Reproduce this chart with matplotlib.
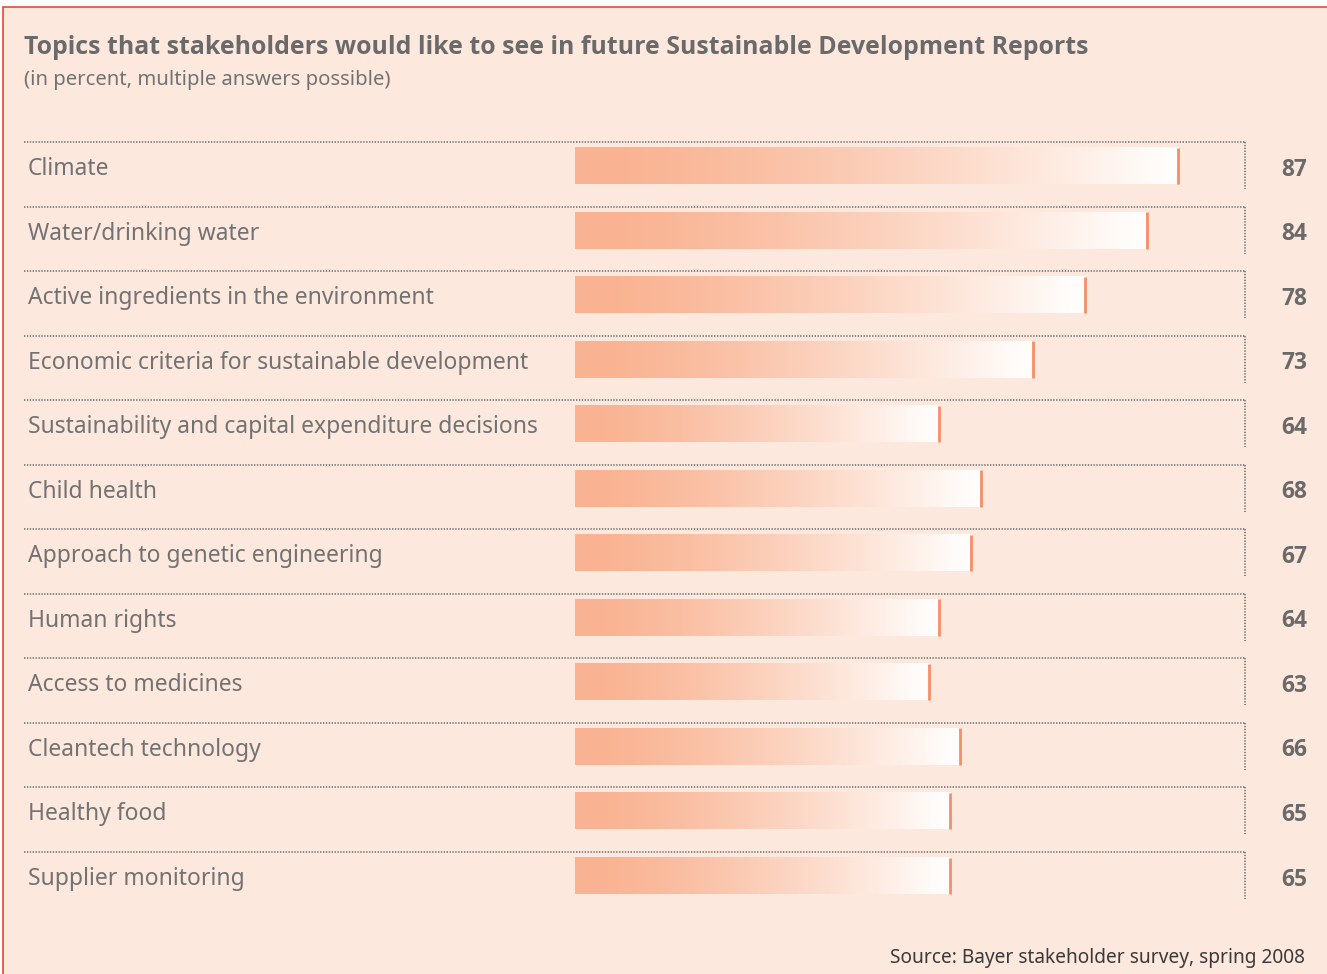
import numpy as np
import matplotlib
matplotlib.use("Agg")
import matplotlib.pyplot as plt
from matplotlib.patches import Rectangle
from matplotlib.colors import to_rgb
import matplotlib.transforms as mtransforms

# ---------------- data ----------------
topics = ["Climate", "Water/drinking water", "Active ingredients in the environment",
          "Economic criteria for sustainable development",
          "Sustainability and capital expenditure decisions", "Child health",
          "Approach to genetic engineering", "Human rights", "Access to medicines",
          "Cleantech technology", "Healthy food", "Supplier monitoring"]
percent = [87, 84, 78, 73, 64, 68, 67, 64, 63, 66, 65, 65]

title = "Topics that stakeholders would like to see in future Sustainable Development Reports"
subtitle = "(in percent, multiple answers possible)"
source = "Source: Bayer stakeholder survey, spring 2008"

# ---------------- style ----------------
W, H = 1327, 974
BG = '#fde8de'
FRAME = '#e64a34'
BAR = '#f9b392'
END = '#f58e67'
TXT = '#727272'
DOT = '#6e6e6e'
FONT = 'Noto Sans'
BOLDFONT = 'Open Sans'
XMIN, XMAX = 28.9, 93.4
ROW = 64.55  # px per row

fig = plt.figure(figsize=(W / 100, H / 100), dpi=100, facecolor='white')
fig.patches.append(Rectangle((3 / W, -0.02), 1.1, (H - 7) / H + 0.02, transform=fig.transFigure,
                             facecolor=BG, edgecolor=FRAME, lw=1.2, zorder=-5))

n = len(topics)
top_px = 142
ax = fig.add_axes([574.5 / W, 1 - (top_px + n * ROW) / H, (1245 - 574.5) / W, n * ROW / H])
ax.set_facecolor('none')
ax.axis('off')
ax.set_zorder(2)

# gradient: salmon -> white
t = np.linspace(0, 1, 400)
f = np.clip((t - 0.05) / 0.92, 0, 1) ** 1.35
c0 = np.array(to_rgb(BAR))
c1 = np.array(to_rgb('#fffdfb'))
grad = (c0[None, :] * (1 - f[:, None]) + c1[None, :] * f[:, None])[None, :, :]

btop, bbot = 5.5 / ROW, 42.0 / ROW
blend = mtransforms.blended_transform_factory(fig.transFigure, ax.transData)
DOTSTYLE = dict(color=DOT, lw=1.15, linestyle=(0, (0.85, 0.95)), clip_on=False, zorder=1)
labels, nums = [], []
for i, (name, v) in enumerate(zip(topics, percent)):
    ax.imshow(grad, extent=(XMIN, v, i + bbot, i + btop), aspect='auto',
              interpolation='bilinear', zorder=2)
    ax.plot([v, v], [i + btop, i + bbot], color=END, lw=2.0, solid_capstyle='butt', zorder=3)
    # dotted separators
    ax.plot([24 / W, 1245 / W], [i, i], transform=blend, **DOTSTYLE)
    ax.plot([XMAX, XMAX], [i, i + 47 / ROW], **DOTSTYLE)
    labels.append(ax.text(28 / W, i + 33 / ROW, name, transform=blend, ha='left', va='baseline',
                          fontsize=15, color=TXT, family=FONT))
    nums.append(ax.text(1307 / W, i + 33.5 / ROW, f"{v}", transform=blend, ha='right',
                        va='baseline', fontsize=15, color='#6a6a6a', family=BOLDFONT,
                        fontweight='bold'))

ax.set_xlim(XMIN, XMAX)
ax.set_ylim(n, 0)

t_title = fig.text(24 / W, 1 - 54 / H, title, ha='left', va='baseline', fontsize=17,
                   color='#6a6a6a', family=BOLDFONT, fontweight='bold')
t_sub = fig.text(24 / W, 1 - 85 / H, subtitle, ha='left', va='baseline', fontsize=13,
                 color=TXT, family=FONT)
t_src = fig.text(1305 / W, 1 - 963 / H, source, ha='right', va='baseline', fontsize=13,
                 color='#3a3a3a', family=FONT)

# fit text sizes to reference widths
fig.canvas.draw()
r = fig.canvas.get_renderer()
def fit(txt, target):
    w = txt.get_window_extent(r).width
    txt.set_fontsize(txt.get_fontsize() * target / w)
fit(t_title, 1065)
fit(t_sub, 368)
fit(t_src, 417)
s = 511 / labels[4].get_window_extent(r).width
for lb in labels:
    lb.set_fontsize(lb.get_fontsize() * s)
s2 = 26 / nums[0].get_window_extent(r).width
for nb in nums:
    nb.set_fontsize(nb.get_fontsize() * s2)

fig.savefig('out.png', dpi=100, facecolor='white')
